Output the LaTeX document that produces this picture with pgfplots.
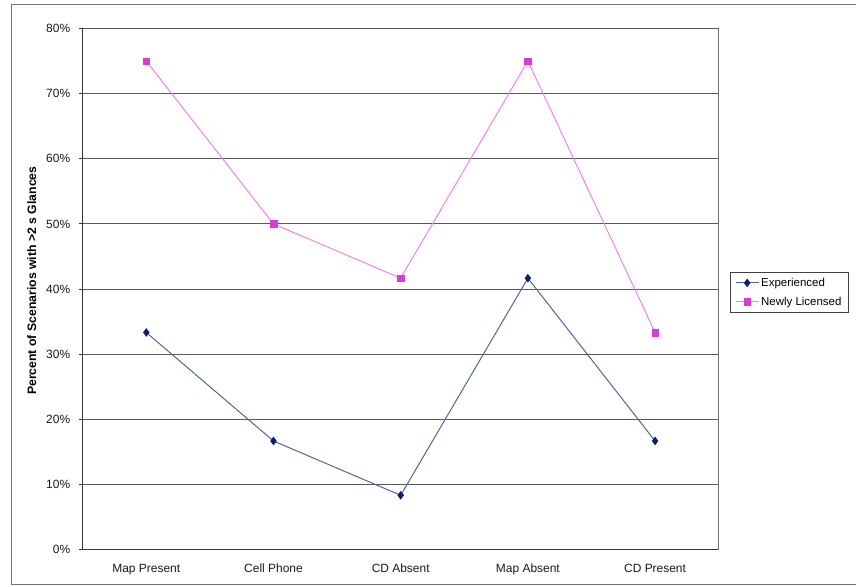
\documentclass[border=0pt]{standalone}
\usepackage{fontspec}
\setmainfont{Liberation Sans}
\usepackage{pgfplots}
\pgfplotsset{compat=1.18}

\definecolor{expline}{HTML}{5064A0}
\definecolor{expmark}{HTML}{0A1F6E}
\definecolor{newline}{HTML}{EE82EE}
\definecolor{newmark}{HTML}{D93CD0}

\begin{document}
\begin{tikzpicture}[x=1bp,y=1bp]
\useasboundingbox (0,0) rectangle (856,587);
% chart frame
\draw[black!55, line width=1bp] (856,582) -- (11,582) -- (11,2) -- (856,2);
\begin{axis}[
  at={(65,57.5)}, anchor=south west,
  scale only axis, width=636bp, height=521bp,
  xmin=0, xmax=5, ymin=0, ymax=80,
  axis lines*=left,
  axis line style={black!80, line width=1bp},
  xtick={0.5,1.5,2.5,3.5,4.5},
  xticklabels={Map Present, Cell Phone, CD Absent, Map Absent, CD Present},
  x tick style={draw=none},
  extra x ticks={0,1,2,3,4,5},
  extra x tick labels={},
  extra x tick style={tick style={draw=black!80, line width=1bp}, major tick length=4bp, tick align=outside, grid=none},
  ytick={0,10,...,80},
  yticklabel={\pgfmathprintnumber{\tick}\%},
  /pgf/number format/assume math mode=true,
  y tick style={black!80, line width=1bp},
  major tick length=4bp, tick align=outside,
  ymajorgrids,
  major grid style={black!65, line width=1bp},
  tick label style={font=\fontsize{12}{14}\selectfont, text=black!90},
  xticklabel style={yshift=-7bp},
  yticklabel style={xshift=-5bp},
  ylabel={Percent of Scenarios with >2 s Glances},
  ylabel style={at={(axis description cs:-0.080,0.516)}, anchor=center, font=\fontsize{12.3}{14}\selectfont\bfseries},
  legend style={at={(1.0173,0.5336)}, anchor=north west, draw=black!75, line width=1bp,
    font=\fontsize{11.5}{13}\selectfont, row sep=5bp, inner xsep=5bp, inner ysep=4bp,
    /tikz/every even column/.append style={column sep=1bp}},
  legend cell align=left,
  legend image code/.code={\draw[#1] (0bp,0bp) -- (23bp,0bp); \draw[#1, only marks] plot coordinates {(11.5bp,0bp)};},
  clip=false,
]
\draw[black!55, line width=1bp] (rel axis cs:1,0) -- (rel axis cs:1,1);
\addplot[expline, line width=1bp, mark=diamond*, mark size=3.8bp,
  mark options={expmark, fill=expmark, line width=0.6bp}]
  coordinates {(0.5,33.33) (1.5,16.67) (2.5,8.33) (3.5,41.67) (4.5,16.67)};
\addlegendentry{Experienced}
\addplot[newline, line width=1bp, mark=square*, mark size=3.3bp,
  mark options={newmark, fill=newmark, line width=0.5bp}]
  coordinates {(0.5,75) (1.5,50) (2.5,41.67) (3.5,75) (4.5,33.33)};
\addlegendentry{Newly Licensed}
\end{axis}
\end{tikzpicture}
\end{document}
